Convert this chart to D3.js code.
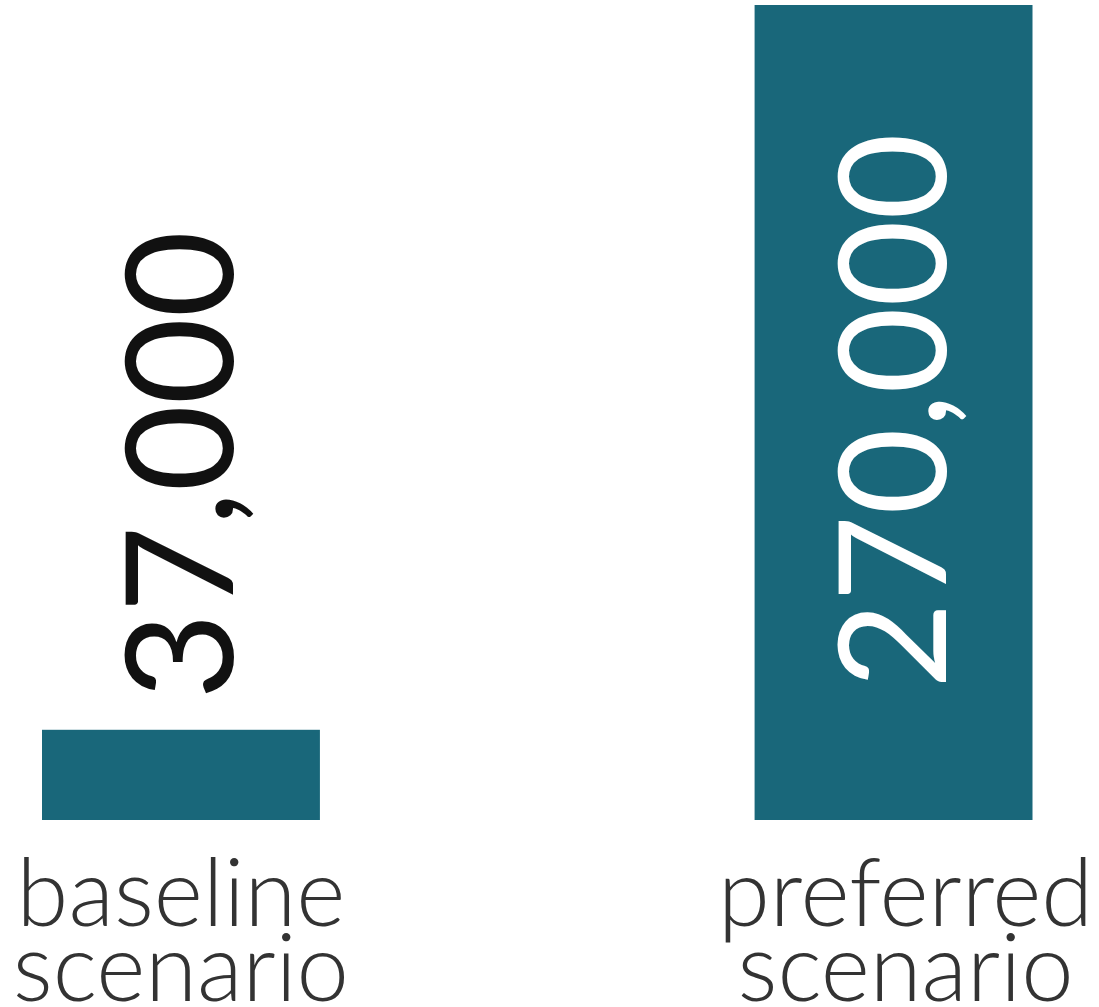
<!DOCTYPE html>
<html>
<head>
<meta charset="utf-8">
<script src="https://cdn.jsdelivr.net/npm/d3@7"></script>
<style>
  html, body { margin: 0; padding: 0; background: #ffffff; }
  svg { display: block; }
</style>
</head>
<body>
<div id="chart"></div>
<script>
// ---- data ----
const categories = ["baseline", "preferred"];
const labelLines = [["baseline", "scenario"], ["preferred", "scenario"]];
const values = [37000, 270000];
const valueLabels = ["37,000", "270,000"];

// ---- layout ----
const W = 1099, H = 1007;
const svg = d3.select("#chart").append("svg").attr("width", W).attr("height", H);

const x = d3.scaleBand().domain(categories).range([42, 1032.5]).paddingInner(0.61).paddingOuter(0);
const y = d3.scaleLinear().domain([8000, 270000]).range([820, 5]);

const teal = "#19677a";

const g = svg.append("g");
const data = categories.map((c, i) => ({ c, v: values[i], label: valueLabels[i], lines: labelLines[i], i }));

g.selectAll("rect.bar").data(data).join("rect")
  .attr("class", "bar")
  .attr("x", d => x(d.c))
  .attr("y", d => y(d.v))
  .attr("width", x.bandwidth())
  .attr("height", d => y.range()[0] - y(d.v))
  .attr("fill", teal);

// value labels, rotated
const fs = 150;
g.selectAll("text.val").data(data).join("text")
  .attr("class", "val")
  .attr("font-family", "Lato, sans-serif")
  .attr("font-size", fs)
  .attr("font-weight", 400)
  .attr("fill", d => d.i === 0 ? "#111111" : "#ffffff")
  .attr("text-anchor", "start")
  .attr("transform", d => {
    const cx = x(d.c) + x.bandwidth() / 2 + 0.35 * fs;
    // small bar: label sits above bar; big bar: label inside the bar
    const yy = d.i === 0 ? y(d.v) - 30 : y.range()[0] - 131;
    return `translate(${cx},${yy}) rotate(-90)`;
  })
  .text(d => d.label);

// category labels
const catX = d => x(d.c) + x.bandwidth() / 2 + (d.i === 1 ? 12 : 0);
const lg = g.selectAll("text.cat").data(data).join("text")
  .attr("class", "cat")
  .attr("font-family", "Lato, sans-serif")
  .attr("font-weight", 300)
  .attr("font-size", 94)
  .attr("fill", "#333333")
  .attr("text-anchor", "middle")
  .attr("x", catX)
  .attr("y", 926);
lg.selectAll("tspan").data(d => d.lines.map(t => ({ t, xx: catX(d) })))
  .join("tspan")
  .attr("x", t => t.xx)
  .attr("dy", (t, j) => j === 0 ? 0 : 75)
  .text(t => t.t);
</script>
</body>
</html>
